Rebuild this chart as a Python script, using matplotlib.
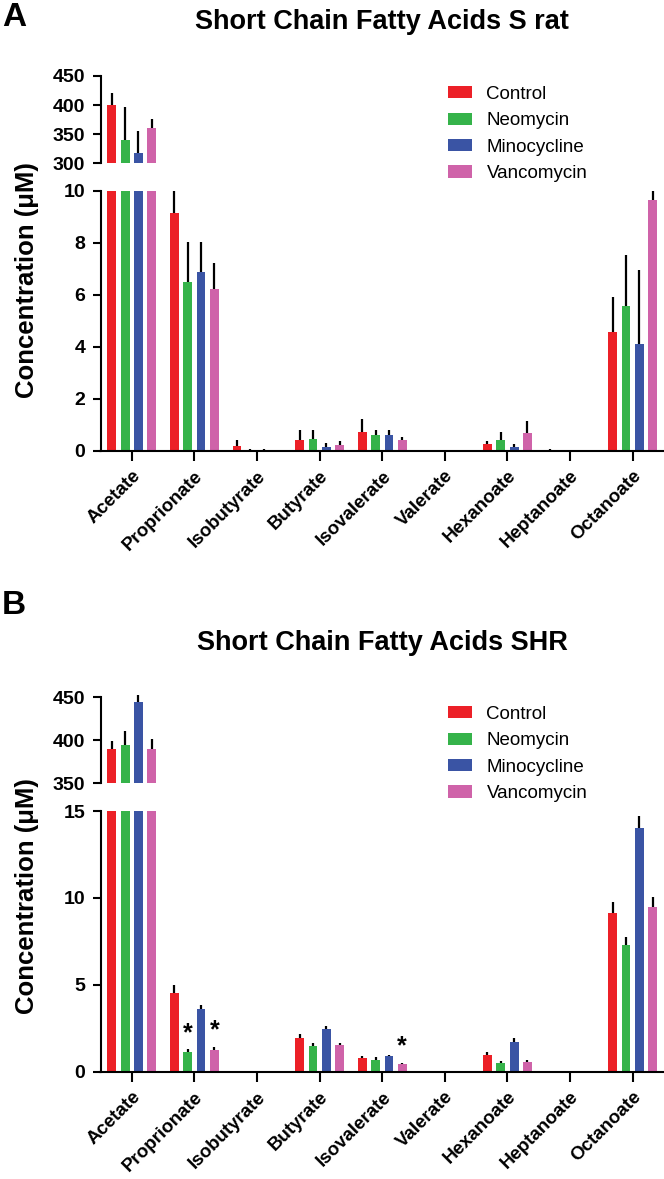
import matplotlib
matplotlib.use('Agg')
import matplotlib.pyplot as plt
import numpy as np

plt.rcParams['font.family'] = ['Liberation Sans', 'DejaVu Sans']

acids = ['Acetate', 'Proprionate', 'Isobutyrate', 'Butyrate', 'Isovalerate',
         'Valerate', 'Hexanoate', 'Heptanoate', 'Octanoate']
groups = ['Control', 'Neomycin', 'Minocycline', 'Vancomycin']
colors = ['#ec2027', '#35b34a', '#3a54a4', '#cf63a9']

# S rat, mean and upper error (uM)
srat_control = [400, 9.13, 0.19, 0.41, 0.73, 0, 0.26, 0.03, 4.55]
srat_neomycin = [340, 6.47, 0.02, 0.44, 0.60, 0, 0.42, 0, 5.58]
srat_minocycline = [317, 6.86, 0.03, 0.15, 0.62, 0, 0.13, 0, 4.10]
srat_vancomycin = [361, 6.22, 0.0, 0.22, 0.41, 0, 0.67, 0, 9.64]
srat_control_err = [20, 0.95, 0.22, 0.39, 0.47, 0, 0.12, 0.03, 1.35]
srat_neomycin_err = [57, 1.55, 0.03, 0.36, 0.20, 0, 0.28, 0, 1.96]
srat_minocycline_err = [38, 1.17, 0.03, 0.13, 0.18, 0, 0.13, 0, 2.85]
srat_vancomycin_err = [15, 1.00, 0.0, 0.15, 0.13, 0, 0.46, 0, 0.50]

# SHR
shr_control = [389.5, 4.51, 0.03, 1.96, 0.80, 0, 0.96, 0, 9.12]
shr_neomycin = [394, 1.11, 0.04, 1.50, 0.67, 0, 0.52, 0, 7.29]
shr_minocycline = [445, 3.61, 0.03, 2.48, 0.90, 0, 1.73, 0, 14.0]
shr_vancomycin = [389.5, 1.25, 0.0, 1.54, 0.44, 0, 0.54, 0, 9.50]
shr_control_err = [9.5, 0.48, 0.01, 0.19, 0.12, 0, 0.19, 0, 0.67]
shr_neomycin_err = [17, 0.18, 0.02, 0.17, 0.15, 0, 0.11, 0, 0.44]
shr_minocycline_err = [7.7, 0.23, 0.01, 0.15, 0.08, 0, 0.23, 0, 0.70]
shr_vancomycin_err = [11.5, 0.19, 0.0, 0.13, 0.08, 0, 0.13, 0, 0.58]
# significance stars: (acid index, group index)
shr_stars = [(1, 1), (1, 3), (4, 3)]

FW, FH = 664, 1179
fig = plt.figure(figsize=(FW / 100, FH / 100), dpi=100)

x = np.arange(len(acids))
step = 0.213
bw = 0.14
tick_fs = 14
extra = 6  # px of headroom above the upper broken axis for error bars


def draw_bars(ax, means, errs):
    for i, (m, e) in enumerate(zip(means, errs)):
        xs = x + (i - 1.5) * step
        ax.bar(xs, m, width=bw, color=colors[i], label=groups[i], zorder=2)
        ax.errorbar(xs, m, yerr=[np.zeros(len(m)), e], fmt='none',
                    ecolor='black', elinewidth=1.6, capsize=0, zorder=3)


def style(ax):
    for s in ['top', 'right']:
        ax.spines[s].set_visible(False)
    for s in ['left', 'bottom']:
        ax.spines[s].set_linewidth(1.5)
    ax.tick_params(direction='out', length=6, width=1.5, labelsize=tick_fs, pad=5)
    for t in ax.get_yticklabels():
        t.set_fontweight('bold')
    ax.set_xlim(-0.5, 8.5)


def panel(y_up, y_low, means, errs, up_lim, up_ticks, low_lim, low_ticks,
          title, letter, title_y, letter_y, ylab_y, leg_y, stars=()):
    L, W = 100.5 / FW, 563.5 / FW
    # upper axis gets a few extra pixels on top so error bars are not cut
    per_px = (up_lim[1] - up_lim[0]) / (y_up[1] - y_up[0])
    top_px = y_up[0] - extra
    ax_up = fig.add_axes([L, 1 - y_up[1] / FH, W, (y_up[1] - top_px) / FH])
    ax_low = fig.add_axes([L, 1 - y_low[1] / FH, W, (y_low[1] - y_low[0]) / FH])

    draw_bars(ax_up, means, errs)
    draw_bars(ax_low, means, errs)

    ax_up.set_ylim(up_lim[0], up_lim[1] + extra * per_px)
    ax_up.set_yticks(up_ticks)
    ax_up.spines['left'].set_bounds(*up_lim)
    ax_low.set_ylim(*low_lim)
    ax_low.set_yticks(low_ticks)
    style(ax_up)
    style(ax_low)
    ax_up.spines['bottom'].set_visible(False)
    ax_up.set_xticks([])

    ax_low.set_xticks(x)
    ax_low.set_xticklabels(acids, rotation=45, ha='right', va='top',
                           rotation_mode='anchor', fontweight='bold', fontsize=13.5)
    ax_low.tick_params(axis='x', length=7, pad=5)

    for ai, gi in stars:
        xs = x[ai] + (gi - 1.5) * step
        ax_low.annotate('*', (xs, means[gi][ai] + errs[gi][ai]),
                        xytext=(0, 3), textcoords='offset points',
                        ha='center', va='bottom', fontsize=18, fontweight='bold')

    ax_up.legend(loc='upper left', bbox_to_anchor=(448 / FW, 1 - leg_y / FH),
                 bbox_transform=fig.transFigure, frameon=False,
                 borderpad=0, borderaxespad=0,
                 fontsize=13.5, handlelength=1.3, handleheight=0.62,
                 labelspacing=0.5, handletextpad=0.75)

    fig.text(382 / FW, 1 - title_y / FH, title, ha='center', va='center',
             fontsize=19.5, fontweight='bold')
    fig.text(2 / FW, 1 - letter_y / FH, letter, ha='left', va='center',
             fontsize=24, fontweight='bold')
    fig.text(27 / FW, 1 - ylab_y / FH, 'Concentration (\u03bcM)', rotation=90,
             ha='center', va='center', fontsize=18.5, fontweight='bold')
    return ax_up, ax_low


panel((76, 163.3), (190.7, 450.7),
      [srat_control, srat_neomycin, srat_minocycline, srat_vancomycin],
      [srat_control_err, srat_neomycin_err, srat_minocycline_err, srat_vancomycin_err],
      (300, 450), [300, 350, 400, 450], (0, 10), [0, 2, 4, 6, 8, 10],
      'Short Chain Fatty Acids S rat', 'A', 22, 17, 280, 86)

panel((697.3, 783.3), (811, 1071.7),
      [shr_control, shr_neomycin, shr_minocycline, shr_vancomycin],
      [shr_control_err, shr_neomycin_err, shr_minocycline_err, shr_vancomycin_err],
      (350, 450), [350, 400, 450], (0, 15), [0, 5, 10, 15],
      'Short Chain Fatty Acids SHR', 'B', 643, 605, 896, 706, stars=shr_stars)

fig.savefig('out.png', dpi=100)
